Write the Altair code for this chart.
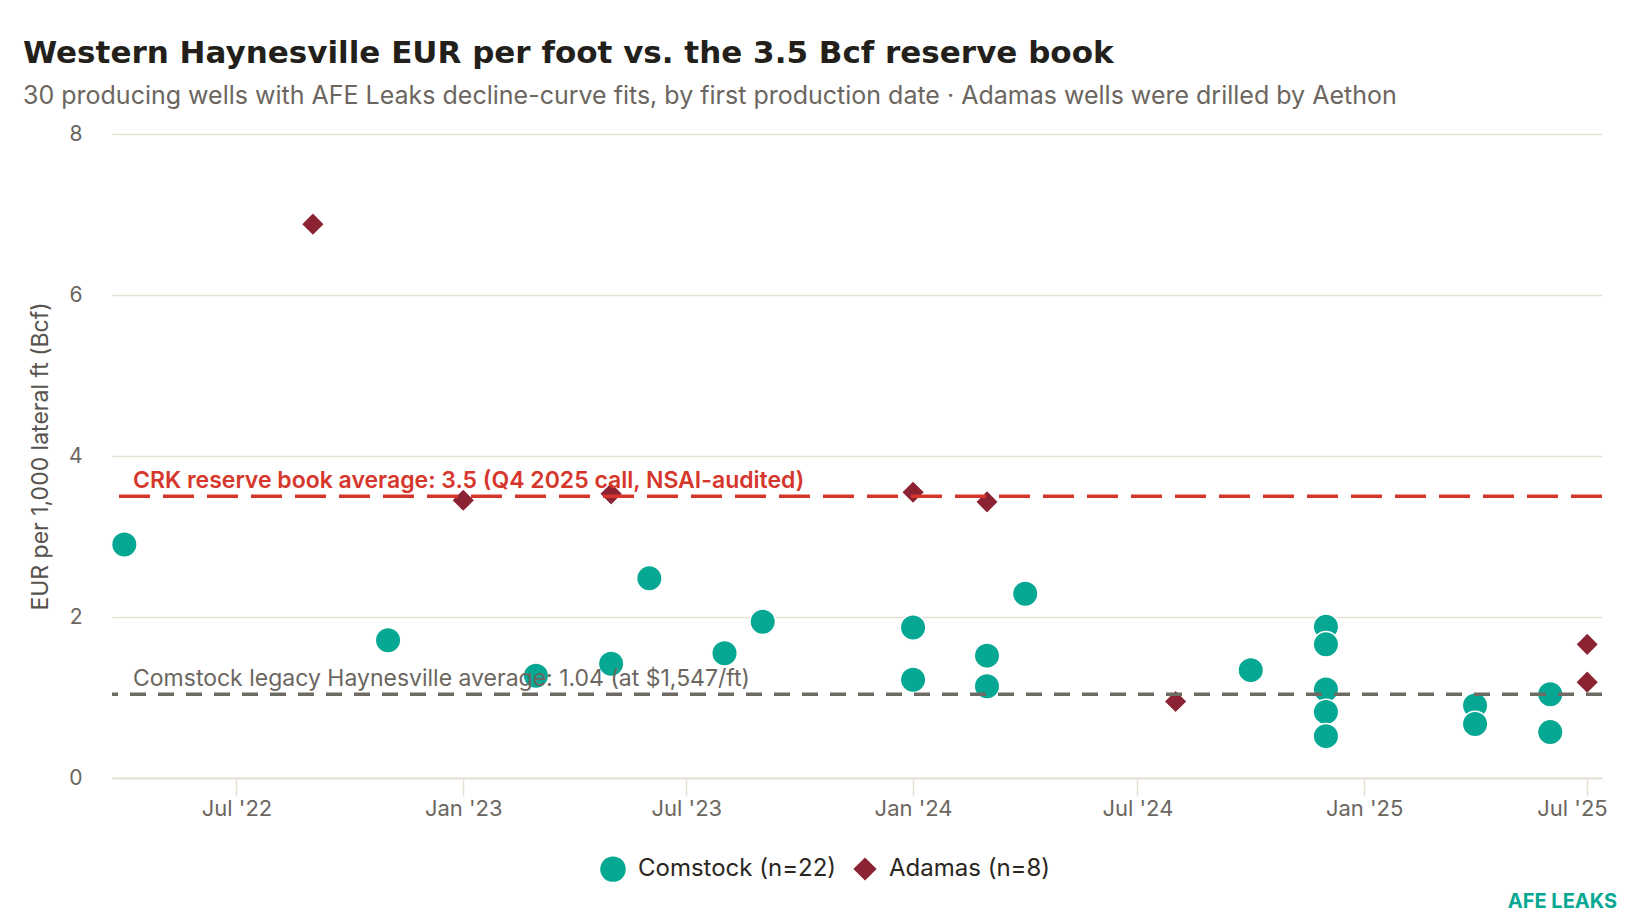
import altair as alt
import pandas as pd

# Comstock-operated wells: first production month and EUR per 1,000 ft (Bcf)
com_dates = [
    "2022-04-01", "2022-11-01", "2023-03-01", "2023-05-01", "2023-06-01",
    "2023-08-01", "2023-09-01", "2024-01-01", "2024-01-01", "2024-03-01",
    "2024-03-01", "2024-04-01", "2024-10-01", "2024-12-01", "2024-12-01",
    "2024-12-01", "2024-12-01", "2024-12-01", "2025-04-01", "2025-04-01",
    "2025-06-01", "2025-06-01",
]
com_eur = [
    2.90, 1.71, 1.27, 1.42, 2.48,
    1.55, 1.94, 1.87, 1.22, 1.52,
    1.14, 2.29, 1.34, 1.88, 1.66,
    1.10, 0.82, 0.52, 0.90, 0.67,
    1.04, 0.57,
]

# Adamas wells (drilled by Aethon)
ada_dates = [
    "2022-09-01", "2023-01-01", "2023-05-01", "2024-01-01",
    "2024-03-01", "2024-08-01", "2025-07-01", "2025-07-01",
]
ada_eur = [6.88, 3.45, 3.53, 3.55, 3.43, 0.95, 1.66, 1.19]

groups = ["Comstock (n=22)", "Adamas (n=8)"]
group_colors = ["#07a893", "#8b2332"]
group_shapes = ["circle", "diamond"]
group_sizes = [650, 540]

crk_book = 3.5
crk_label = "CRK reserve book average: 3.5 (Q4 2025 call, NSAI-audited)"
legacy_avg = 1.04
legacy_label = "Comstock legacy Haynesville average: 1.04 (at $1,547/ft)"

x_ticks = ["2022-07-01", "2023-01-01", "2023-07-01", "2024-01-01",
           "2024-07-01", "2025-01-01", "2025-07-01"]
x_range = ["2022-03-22", "2025-07-13"]
y_ticks = [0, 2, 4, 6, 8]

FONT = "Inter"
GRID = "#e6e1d5"
TEAL = "#07a893"


def utc_dt(s):
    t = pd.Timestamp(s)
    return alt.DateTime(year=t.year, month=t.month, date=t.day, utc=True)


wells = pd.DataFrame({
    "first_prod": com_dates + ada_dates,
    "eur_per_ft": com_eur + ada_eur,
    "operator": [groups[0]] * len(com_dates) + [groups[1]] * len(ada_dates),
})

points = alt.Chart(wells).mark_point(
    filled=True, opacity=1, stroke="white", strokeWidth=1.5
).encode(
    x=alt.X(
        "first_prod:T",
        scale=alt.Scale(type="utc", domain=[utc_dt(d) for d in x_range]),
        axis=alt.Axis(
            values=[utc_dt(d) for d in x_ticks],
            labelExpr="utcFormat(datum.value, \"%b '%y\")",
            title=None,
            grid=False,
            tickSize=18,
            tickColor=GRID,
            tickWidth=1.5,
            domainColor=GRID,
            domainWidth=2,
            labelPadding=2,
            labelFontSize=22,
            labelFlush=20,
            labelFlushOffset=20,
        ),
    ),
    y=alt.Y(
        "eur_per_ft:Q",
        scale=alt.Scale(domain=[0, 8], nice=False),
        axis=alt.Axis(
            values=y_ticks,
            format="d",
            title="EUR per 1,000 lateral ft (Bcf)",
            domain=False,
            ticks=False,
            tickSize=0,
            labelPadding=30,
            labelFontSize=21,
            gridColor=GRID,
            gridWidth=1.5,
            titleX=-72,
            titleY=322,
            titleAngle=-90,
            titleAlign="center",
            titleBaseline="middle",
        ),
    ),
    color=alt.Color(
        "operator:N",
        scale=alt.Scale(domain=groups, range=group_colors),
        legend=alt.Legend(
            title=None,
            orient="none",
            direction="horizontal",
            legendX=488,
            legendY=722,
            labelFontSize=24,
            labelColor="#2a2622",
            labelFont=FONT,
            labelLimit=0,
            labelOffset=12,
            columnPadding=16,
            symbolSize=420,
            symbolStrokeWidth=0,
            padding=0,
        ),
    ),
    shape=alt.Shape("operator:N", scale=alt.Scale(domain=groups, range=group_shapes)),
    size=alt.Size("operator:N", scale=alt.Scale(domain=groups, range=group_sizes), legend=None),
)

crk_df = pd.DataFrame({"eur_per_ft": [crk_book], "label": [crk_label]})
legacy_df = pd.DataFrame({"eur_per_ft": [legacy_avg], "label": [legacy_label]})

crk_rule = alt.Chart(crk_df).mark_rule(
    color="#d6372d", strokeWidth=3.4, strokeDash=[31, 13]
).encode(y="eur_per_ft:Q")

legacy_rule = alt.Chart(legacy_df).mark_rule(
    color="#6e6a64", strokeWidth=3.4, strokeDash=[16, 12]
).encode(y="eur_per_ft:Q")

crk_text = alt.Chart(crk_df).mark_text(
    align="left", baseline="alphabetic", dy=-8, fontSize=23, fontWeight=600,
    font=FONT, color="#d6372d"
).encode(x=alt.value(21), y="eur_per_ft:Q", text="label:N")

legacy_text = alt.Chart(legacy_df).mark_text(
    align="left", baseline="alphabetic", dy=-8, fontSize=23, fontWeight=400,
    font=FONT, color="#6b6660"
).encode(x=alt.value(21), y="eur_per_ft:Q", text="label:N")

brand = alt.Chart(pd.DataFrame({"t": ["AFE LEAKS"]})).mark_text(
    align="right", baseline="middle", fontSize=20, fontWeight=700,
    font=FONT, color=TEAL
).encode(x=alt.value(1505), y=alt.value(768), text="t:N")

chart = alt.layer(
    points, crk_rule, legacy_rule, crk_text, legacy_text, brand
).properties(
    width=1490,
    height=644,
    padding={"left": 104, "top": 126, "right": 30, "bottom": 140},
    autosize=alt.AutoSizeParams(type="none"),
    title=alt.TitleParams(
        text="Western Haynesville EUR per foot vs. the 3.5 Bcf reserve book",
        subtitle="30 producing wells with AFE Leaks decline-curve fits, by first production date \u00b7 Adamas wells were drilled by Aethon",
        anchor="start",
        frame="group",
        dx=-89,
        offset=13,
        font="DejaVu Sans",
        fontSize=31,
        fontWeight=700,
        color="#231f1b",
        subtitleFont=FONT,
        subtitleFontSize=25,
        subtitleColor="#6b6660",
        subtitlePadding=14,
    ),
).configure(
    background="white",
).configure_view(
    stroke=None,
).configure_axis(
    labelFont=FONT,
    labelColor="#6b6660",
    titleFont=FONT,
    titleFontSize=23,
    titleFontWeight="normal",
    titleColor="#57534e",
)

chart.save("out.html", embed_options={"renderer": "svg", "actions": False})
